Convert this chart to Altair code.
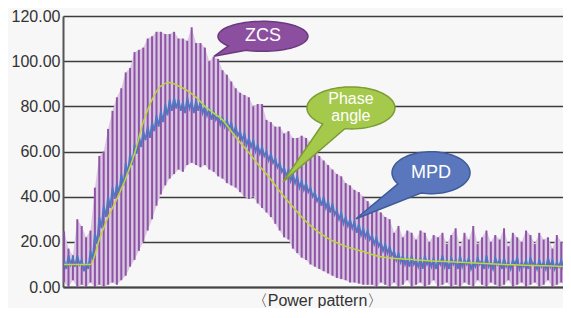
import math
import altair as alt
import pandas as pd

# ---------------- data ----------------
# ZCS: one oscillation cycle per index, upper and lower ends of each swing
zcs_upper = [24.6, 17, 14, 30, 27, 22, 25, 44, 58, 60,
             70, 78, 84, 88, 95, 97, 104, 105, 106, 110,
             111, 113, 113, 112, 112, 113, 110, 110, 109, 115,
             108, 108, 106, 100, 102, 101, 96, 94, 91, 88,
             86, 85, 84, 80, 81, 81, 74, 73, 71, 71,
             68, 69, 66, 66, 67, 66, 64, 61, 58, 56,
             54, 52, 50, 49, 46, 45, 43, 42, 40, 38,
             36, 34, 33, 31, 30, 24, 27, 22, 25, 24,
             21, 25, 24, 20, 23, 22, 24, 19, 23, 26,
             18, 24, 21, 27, 19, 22, 25, 20, 23, 21,
             26, 18, 24, 22, 20, 25, 23, 19, 24, 21,
             22, 17, 23, 20, 19, 22]
zcs_lower = [2, 0, 3, 0, 1, 0, 2, 0, 1, 0,
             1, 2, 1, 3, 5, 9, 12, 16, 20, 25,
             30, 36, 41, 45, 48, 50, 52, 51, 54, 55,
             54, 53, 54, 52, 51, 49, 48, 46, 45, 44,
             42, 40, 39, 40, 37, 35, 33, 31, 28, 25,
             22, 21, 17, 15, 13, 12, 10, 9, 8, 7,
             6, 5, 4, 3.5, 3, 2, 2, 1.5, 1, 1,
             1, 0, 2, 1, 0, 2, 0, 1, 3, 0,
             1, 2, 0, 1, 3, 0, 1, 2, 0, 1,
             0, 2, 1, 0, 3, 1, 0, 2, 1, 0,
             1, 3, 0, 1, 2, 0, 1, 2, 0, 1,
             3, 0, 1, 2, 0, 1]

# MPD: two samples per cycle
mpd_values = [12, 8, 14, 10, 13, 9, 14, 10, 12, 7, 11, 8, 16, 12, 24, 19, 31, 26, 36, 31,
              40, 35, 44, 39, 46, 41, 50, 45, 55, 50, 59, 54, 63, 59, 67, 62, 69, 65, 71, 66,
              73, 69, 76, 71, 78, 73, 81, 76, 83, 78, 84, 79, 83, 78, 82, 77, 84, 79, 82, 77,
              83, 78, 82, 77, 80, 76, 79, 74, 78, 74, 76, 72, 75, 71, 74, 70, 73, 68, 71, 67,
              69, 65, 68, 63, 66, 62, 65, 60, 63, 59, 62, 58, 60, 56, 59, 55, 57, 53, 55, 51,
              53, 49, 52, 47, 50, 46, 49, 44, 47, 43, 46, 42, 44, 40, 42, 38, 40, 36, 40, 35,
              38, 33, 37, 32, 34, 30, 33, 28, 31, 27, 30, 26, 29, 24, 28, 23, 26, 22, 25, 21,
              23, 19, 22, 18, 20, 16, 19, 15, 18, 14, 16, 12, 15, 11, 14, 10, 13, 9, 14, 10,
              12, 9, 13, 8, 14, 10, 12, 9, 13, 8, 12, 10, 14, 9, 12, 8, 13, 10, 12, 8,
              14, 9, 12, 10, 13, 8, 11, 9, 13, 10, 12, 8, 14, 9, 11, 8, 13, 10, 12, 8,
              13, 9, 11, 8, 12, 10, 13, 8, 11, 9, 12, 8, 13, 10, 11, 8, 12, 9, 11, 8,
              13, 9, 12, 8, 11, 9, 12, 8, 11, 9, 12, 8]

# Phase angle: smooth curve, positions in cycle units
phase_x = [0, 6, 8, 10, 12, 14, 16, 18, 20, 22, 24, 26, 28, 30, 32, 34, 36, 38, 40, 42,
           44, 46, 48, 50, 52, 54, 57, 60, 64, 68, 72, 80, 90, 100, 115]
phase_y = [10, 10, 21, 31, 39, 48, 59, 73, 83, 89, 90.5, 89, 87, 84, 80, 77, 74, 69, 64, 59.5,
           54.5, 50, 45, 40, 35.5, 31, 25.5, 21.5, 18, 15.7, 13.4, 12, 11, 10, 9]

y_ticks = [0, 20, 40, 60, 80, 100, 120]
x_title = "〈Power pattern〉"

# ---------------- tables ----------------
zcs_df = pd.DataFrame({"x": list(range(len(zcs_upper))), "lo": zcs_lower, "hi": zcs_upper})
mpd_df = pd.DataFrame({"x": [i * 0.5 for i in range(len(mpd_values))], "y": mpd_values})
phase_df = pd.DataFrame({"x": phase_x, "y": phase_y})

FONT = "Liberation Sans"
xs = alt.Scale(domain=[-0.25, 113.4], nice=False, zero=False)
ys = alt.Scale(domain=[0, 120], nice=False)

x_axis = alt.Axis(labels=False, ticks=False, grid=False, domainColor="#444", domainWidth=2,
                  title=x_title, titleFont=FONT, titleFontSize=16, titleFontWeight="normal",
                  titleColor="#333", titlePadding=5, titleX=254, titleAnchor="middle")
y_axis = alt.Axis(values=y_ticks, format=".2f", ticks=False, grid=True, gridColor="#3c3c3c",
                  gridWidth=1.5, domainColor="#555", domainWidth=2, labelPadding=3,
                  labelFont=FONT, labelFontSize=16, labelColor="#333", title=None)

zcs_fill = alt.Chart(zcs_df).mark_area(color="#dac7e2", clip=True).encode(
    x=alt.X("x:Q", scale=xs, axis=x_axis),
    y=alt.Y("lo:Q", scale=ys, axis=y_axis),
    y2="hi:Q")
zcs_bars = alt.Chart(zcs_df).mark_rule(color="#8e52a6", strokeWidth=2, clip=True).encode(
    x="x:Q", y="lo:Q", y2="hi:Q")
mpd_line = alt.Chart(mpd_df).mark_line(color="#5276c2", strokeWidth=1.8, clip=True).encode(x="x:Q", y="y:Q")
phase_line = alt.Chart(phase_df).mark_line(color="#bcd63c", strokeWidth=1.5, clip=True,
                                           interpolate="monotone").encode(x="x:Q", y="y:Q")


def bubble_path(rx, ry, a1, a2, tip):
    pts = []
    start, end = a2, a1 + 360
    n = 72
    for i in range(n + 1):
        t = math.radians(start + (end - start) * i / n)
        pts.append((rx * math.cos(t), ry * math.sin(t)))
    d = "M%.2f,%.2f " % pts[0]
    d += " ".join("L%.2f,%.2f" % p for p in pts[1:])
    d += " L%.2f,%.2f Z" % tip
    return d


def bubble(cx, cy, rx, ry, a1, a2, tip, fill, stroke, lines, fs=18, gap=17):
    shape_pos = pd.DataFrame({"x": [cx], "y": [cy]})
    shape = alt.Chart(shape_pos).mark_point(shape=bubble_path(rx, ry, a1, a2, tip), size=4, filled=True,
                                            fill=fill, stroke=stroke, strokeWidth=1.5, opacity=1,
                                            fillOpacity=1).encode(x="x:Q", y="y:Q")
    out = [shape]
    n = len(lines)
    for i, line in enumerate(lines):
        pos = pd.DataFrame({"x": [cx], "y": [cy], "t": [line]})
        off = (i - (n - 1) / 2) * gap
        out.append(alt.Chart(pos).mark_text(color="white", font=FONT, fontSize=fs, dy=off).encode(
            x="x:Q", y="y:Q", text="t:N"))
    return out


layers = [zcs_fill, zcs_bars, mpd_line, phase_line]
layers += bubble(45.2, 111, 45, 15, 112, 140, (-49, 20), "#8c4fa0", "#6b3a7d", ["ZCS"])
layers += bubble(65.2, 79.3, 44, 21, 98, 130, (-68, 74), "#a5c94b", "#7d9c33", ["Phase", "angle"], fs=16, gap=17)
layers += bubble(83.4, 50.6, 39, 21, 105, 148, (-75, 46), "#5a77bd", "#3f5b99", ["MPD"])

chart = alt.layer(*layers).properties(
    width=555, height=300,
    autosize=alt.AutoSizeParams(type="fit", contains="padding"),
    padding={"left": 3, "right": 0, "top": 0, "bottom": 0},
    background="#f7f7f7",
).configure_view(stroke=None)

chart.save("out.html", embed_options={"renderer": "svg", "actions": False})
